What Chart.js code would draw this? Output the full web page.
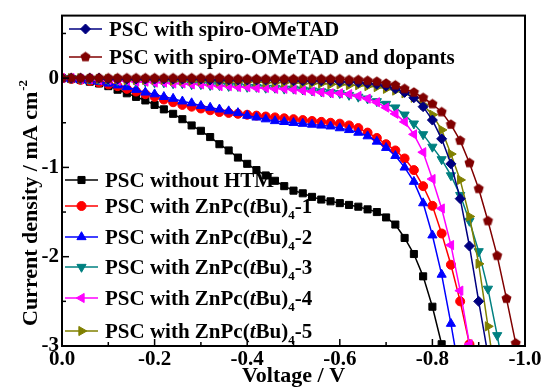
<!DOCTYPE html>
<html>
<head>
<meta charset="utf-8">
<script src="https://cdn.jsdelivr.net/npm/chart.js"></script>
<style>
  html, body { margin: 0; padding: 0; background: #fff; }
  #jv { display: block; }
</style>
</head>
<body>
<canvas id="jv" width="544" height="390"></canvas>
<script>
// Voltage grid shared by all curves (V); each series uses the first N values
const voltage = [
    0, -0.02, -0.04, -0.06, -0.08, -0.10, -0.12, -0.14, -0.16, -0.18,
    -0.20, -0.22, -0.24, -0.26, -0.28, -0.30, -0.32, -0.34, -0.36, -0.38,
    -0.40, -0.42, -0.44, -0.46, -0.48, -0.50, -0.52, -0.54, -0.56, -0.58,
    -0.60, -0.62, -0.64, -0.66, -0.68, -0.70, -0.72, -0.74, -0.76, -0.78,
    -0.80, -0.82, -0.84, -0.86, -0.88, -0.90, -0.92, -0.94, -0.96, -0.98
];

// Current density (mA cm-2)
const noHTM = [
    0, -0.01, -0.02, -0.04, -0.06, -0.09, -0.13, -0.17, -0.21, -0.25,
    -0.30, -0.35, -0.40, -0.46, -0.53, -0.59, -0.66, -0.74, -0.81, -0.89,
    -0.96, -1.03, -1.09, -1.15, -1.21, -1.26, -1.29, -1.33, -1.36, -1.38,
    -1.40, -1.42, -1.44, -1.47, -1.50, -1.56, -1.64, -1.79, -1.97, -2.22,
    -2.56, -2.98
];
const znpc1 = [
    0, -0.01, -0.02, -0.03, -0.05, -0.07, -0.09, -0.12, -0.15, -0.18,
    -0.21, -0.24, -0.27, -0.30, -0.32, -0.34, -0.36, -0.38, -0.39, -0.40,
    -0.41, -0.42, -0.43, -0.44, -0.45, -0.46, -0.47, -0.48, -0.49, -0.50,
    -0.51, -0.53, -0.56, -0.61, -0.67, -0.74, -0.81, -0.90, -1.03, -1.21,
    -1.43, -1.74, -2.09, -2.50, -2.98
];
const znpc2 = [
    0, -0.01, -0.02, -0.03, -0.04, -0.06, -0.08, -0.10, -0.13, -0.16,
    -0.18, -0.21, -0.23, -0.26, -0.28, -0.31, -0.33, -0.35, -0.37, -0.39,
    -0.42, -0.44, -0.46, -0.48, -0.49, -0.50, -0.51, -0.52, -0.53, -0.54,
    -0.56, -0.58, -0.61, -0.65, -0.71, -0.78, -0.87, -1.00, -1.16, -1.40,
    -1.76, -2.20, -2.75, -3.35
];
const znpc3 = [
    0, 0, -0.01, -0.01, -0.02, -0.02, -0.03, -0.03, -0.04, -0.04,
    -0.05, -0.05, -0.06, -0.06, -0.07, -0.07, -0.08, -0.08, -0.09, -0.09,
    -0.10, -0.10, -0.11, -0.11, -0.12, -0.12, -0.13, -0.14, -0.15, -0.16,
    -0.17, -0.19, -0.21, -0.23, -0.26, -0.29, -0.33, -0.41, -0.51, -0.63,
    -0.77, -0.91, -1.09, -1.31, -1.60, -1.94, -2.36, -2.88, -3.45
];
const znpc4 = [
    0, 0, -0.01, -0.01, -0.02, -0.02, -0.03, -0.03, -0.04, -0.04,
    -0.05, -0.05, -0.06, -0.06, -0.07, -0.07, -0.08, -0.09, -0.09, -0.10,
    -0.10, -0.11, -0.11, -0.12, -0.12, -0.13, -0.14, -0.15, -0.16, -0.17,
    -0.17, -0.18, -0.20, -0.23, -0.27, -0.33, -0.40, -0.49, -0.63, -0.83,
    -1.13, -1.46, -1.87, -2.38, -2.98
];
const znpc5 = [
    0, 0, 0, -0.01, -0.01, -0.01, -0.01, -0.02, -0.02, -0.02,
    -0.02, -0.02, -0.03, -0.03, -0.03, -0.03, -0.03, -0.04, -0.04, -0.04,
    -0.04, -0.04, -0.05, -0.05, -0.05, -0.05, -0.06, -0.06, -0.06, -0.07,
    -0.07, -0.08, -0.08, -0.09, -0.10, -0.12, -0.14, -0.17, -0.22, -0.30,
    -0.41, -0.58, -0.85, -1.14, -1.55, -2.08, -2.78, -3.50
];
const spiro = [
    0, 0, 0, 0, 0, -0.01, -0.01, -0.01, -0.01, -0.01,
    -0.01, -0.01, -0.01, -0.01, -0.01, -0.01, -0.02, -0.02, -0.02, -0.02,
    -0.02, -0.02, -0.02, -0.02, -0.02, -0.03, -0.03, -0.03, -0.03, -0.03,
    -0.04, -0.04, -0.05, -0.06, -0.07, -0.09, -0.12, -0.16, -0.22, -0.32,
    -0.47, -0.68, -0.96, -1.35, -1.88, -2.50, -3.10
];
const spiroDoped = [
    0, 0, 0, 0, 0, 0, 0, 0, 0, 0,
    0, 0, 0, 0, 0, 0, 0, 0, -0.01, -0.01,
    -0.01, -0.01, -0.01, -0.01, -0.01, -0.01, -0.01, -0.01, -0.01, -0.01,
    -0.01, -0.02, -0.02, -0.03, -0.04, -0.06, -0.08, -0.12, -0.16, -0.22,
    -0.29, -0.38, -0.52, -0.70, -0.95, -1.24, -1.60, -1.99, -2.47, -2.97
];

const seriesValues = [noHTM, znpc1, znpc2, znpc3, znpc4, znpc5, spiro, spiroDoped];
const legendLabels = [
    'PSC without HTM',
    'PSC with ZnPc(<i>t</i>Bu)<sub>4</sub>-1',
    'PSC with ZnPc(<i>t</i>Bu)<sub>4</sub>-2',
    'PSC with ZnPc(<i>t</i>Bu)<sub>4</sub>-3',
    'PSC with ZnPc(<i>t</i>Bu)<sub>4</sub>-4',
    'PSC with ZnPc(<i>t</i>Bu)<sub>4</sub>-5',
    'PSC with spiro-OMeTAD',
    'PSC with spiro-OMeTAD and dopants'
];
const seriesColors = ['#000000', '#ff0000', '#0000ff', '#008080', '#ff00ff', '#808000', '#000080', '#800000'];

// Tick positions
const xTickValues = [0, -0.1, -0.2, -0.3, -0.4, -0.5, -0.6, -0.7, -0.8, -0.9, -1.0];
const yTickValues = [-3, -2.5, -2, -1.5, -1, -0.5, 0, 0.5];

const SERIF = '"Liberation Serif", "Times New Roman", serif';

// pentagon marker for the doped spiro curve
function makePentagon(color, r) {
    const c = document.createElement('canvas');
    const s = Math.ceil(2 * r + 2);
    c.width = s; c.height = s;
    const g = c.getContext('2d');
    g.fillStyle = color;
    g.beginPath();
    for (let k = 0; k < 5; k++) {
        const a = -Math.PI / 2 + k * 2 * Math.PI / 5;
        g.lineTo(s / 2 + r * Math.cos(a), s / 2 + r * Math.sin(a));
    }
    g.closePath();
    g.fill();
    return c;
}

const markers = [
    { style: 'rect', rot: 0, r: 5 },
    { style: 'circle', rot: 0, r: 4.5 },
    { style: 'triangle', rot: 0, r: 5.3 },
    { style: 'triangle', rot: 180, r: 5.3 },
    { style: 'triangle', rot: -90, r: 5.3 },
    { style: 'triangle', rot: 90, r: 5.3 },
    { style: 'rectRot', rot: 0, r: 5 },
    { style: makePentagon('#800000', 5.3), rot: 0, r: 5.3 }
];

// Draws bold serif text with <i> and <sub> parts
function drawRich(ctx, markup, x, y, size) {
    const re = /<i>(.*?)<\/i>|<sub>(.*?)<\/sub>|([^<]+)/g;
    let m;
    let cx = x;
    ctx.textAlign = 'left';
    ctx.textBaseline = 'alphabetic';
    while ((m = re.exec(markup)) !== null) {
        if (m[1] !== undefined) {
            ctx.font = 'italic bold ' + size + 'px ' + SERIF;
            ctx.fillText(m[1], cx, y);
            cx += ctx.measureText(m[1]).width;
        } else if (m[2] !== undefined) {
            const s = Math.round(size * 0.6);
            ctx.font = 'bold ' + s + 'px ' + SERIF;
            ctx.fillText(m[2], cx, y + size * 0.28);
            cx += ctx.measureText(m[2]).width;
        } else {
            ctx.font = 'bold ' + size + 'px ' + SERIF;
            ctx.fillText(m[3], cx, y);
            cx += ctx.measureText(m[3]).width;
        }
    }
    return cx - x;
}

const datasets = seriesValues.map(function (vals, i) {
    return {
        label: legendLabels[i].replace(/<[^>]+>/g, ''),
        data: vals.map(function (j, k) { return { x: voltage[k], y: j }; }),
        showLine: true,
        borderColor: seriesColors[i],
        backgroundColor: seriesColors[i],
        borderWidth: 1.5,
        pointStyle: markers[i].style,
        pointRotation: markers[i].rot,
        pointRadius: markers[i].r,
        pointBackgroundColor: seriesColors[i],
        pointBorderColor: seriesColors[i],
        pointBorderWidth: 1,
        order: 7 - i
    };
});

// Frame, inward ticks, y title and the two legend blocks
const framePlugin = {
    id: 'frameTicks',
    afterDatasetsDraw(chart, args, opts) {
        const ctx = chart.ctx;
        const a = chart.chartArea;
        const xs = chart.scales.x, ys = chart.scales.y;
        ctx.save();
        ctx.strokeStyle = '#000';
        ctx.lineWidth = 1.5;
        ys.ticks.forEach(function (t) {
            const py = ys.getPixelForValue(t.value);
            const len = Number.isInteger(t.value) ? 7 : 4;
            ctx.beginPath(); ctx.moveTo(a.left, py); ctx.lineTo(a.left + len, py); ctx.stroke();
        });
        xs.ticks.forEach(function (t) {
            const px = xs.getPixelForValue(t.value);
            const major = Math.round(Math.abs(t.value) * 10) % 2 === 0;
            const len = major ? 7 : 4;
            ctx.beginPath(); ctx.moveTo(px, a.bottom); ctx.lineTo(px, a.bottom - len); ctx.stroke();
        });
        ctx.lineWidth = 2;
        ctx.strokeRect(a.left, a.top, a.right - a.left, a.bottom - a.top);

        // legend
        ctx.fillStyle = '#000';
        opts.rows.forEach(function (row) {
            const ds = chart.data.datasets[row.index];
            ctx.save();
            ctx.strokeStyle = ds.borderColor;
            ctx.lineWidth = ds.borderWidth;
            ctx.beginPath(); ctx.moveTo(row.x0, row.y); ctx.lineTo(row.x0 + opts.lineLen, row.y); ctx.stroke();
            ctx.fillStyle = ds.pointBackgroundColor;
            ctx.strokeStyle = ds.pointBorderColor;
            ctx.lineWidth = 1;
            Chart.helpers.drawPoint(ctx, {
                pointStyle: ds.pointStyle, rotation: ds.pointRotation, radius: ds.pointRadius, borderWidth: 1
            }, row.x0 + opts.lineLen / 2, row.y);
            ctx.fillStyle = '#000';
            drawRich(ctx, legendLabels[row.index], row.x0 + opts.lineLen + opts.gap, row.y + opts.fontSize * 0.33, opts.fontSize);
            ctx.restore();
        });

        // y axis title with superscript
        ctx.save();
        ctx.fillStyle = '#000';
        ctx.translate(opts.yTitleX, opts.yTitleStart);
        ctx.rotate(-Math.PI / 2);
        ctx.textAlign = 'left';
        ctx.textBaseline = 'alphabetic';
        ctx.font = 'bold ' + opts.yTitleSize + 'px ' + SERIF;
        const main = 'Current density / mA cm';
        ctx.fillText(main, 0, 0);
        const w = ctx.measureText(main).width;
        ctx.font = 'bold ' + Math.round(opts.yTitleSize * 0.6) + 'px ' + SERIF;
        ctx.fillText('-2', w + 1, -opts.yTitleSize * 0.45);
        ctx.restore();
        ctx.restore();
    }
};

new Chart(document.getElementById('jv'), {
    type: 'scatter',
    data: { datasets: datasets },
    options: {
        responsive: false,
        animation: false,
        devicePixelRatio: 1,
        layout: { padding: { top: 13, right: 19, left: 0, bottom: 0 } },
        plugins: {
            legend: { display: false },
            tooltip: { enabled: false },
            frameTicks: {
                lineLen: 33, gap: 7, fontSize: 21,
                yTitleX: 37, yTitleStart: 326, yTitleSize: 22,
                rows: [
                    { index: 6, x0: 69, y: 29 }, { index: 7, x0: 69, y: 57 },
                    { index: 0, x0: 65, y: 180 }, { index: 1, x0: 65, y: 206 }, { index: 2, x0: 65, y: 237 },
                    { index: 3, x0: 65, y: 267 }, { index: 4, x0: 65, y: 298 }, { index: 5, x0: 65, y: 331 }
                ]
            }
        },
        scales: {
            x: {
                type: 'linear',
                min: -1,
                max: 0,
                reverse: true,
                afterBuildTicks: function (s) { s.ticks = xTickValues.map(function (v) { return { value: v }; }); },
                afterFit: function (s) { s.height = 44; },
                grid: { display: false, drawTicks: false },
                border: { display: false },
                ticks: {
                    autoSkip: false,
                    maxRotation: 0,
                    padding: 1,
                    color: '#000',
                    font: { family: SERIF, size: 21, weight: 'bold' },
                    callback: function (v) {
                        if (Math.round(Math.abs(v) * 10) % 2 !== 0) return '';
                        return Math.abs(v) < 1e-9 ? '0.0' : v.toFixed(1);
                    }
                },
                title: {
                    display: true,
                    text: 'Voltage / V',
                    color: '#000',
                    font: { family: SERIF, size: 22, weight: 'bold' },
                    padding: { top: 0, bottom: 0 }
                }
            },
            y: {
                type: 'linear',
                min: -3,
                max: 0.7,
                afterBuildTicks: function (s) { s.ticks = yTickValues.map(function (v) { return { value: v }; }); },
                afterFit: function (s) { s.width = 62; },
                grid: { display: false, drawTicks: false },
                border: { display: false },
                ticks: {
                    autoSkip: false,
                    padding: 3,
                    color: '#000',
                    font: { family: SERIF, size: 21, weight: 'bold' },
                    callback: function (v) { return Number.isInteger(v) ? String(v) : ''; }
                }
            }
        }
    },
    plugins: [framePlugin]
});
</script>
</body>
</html>
